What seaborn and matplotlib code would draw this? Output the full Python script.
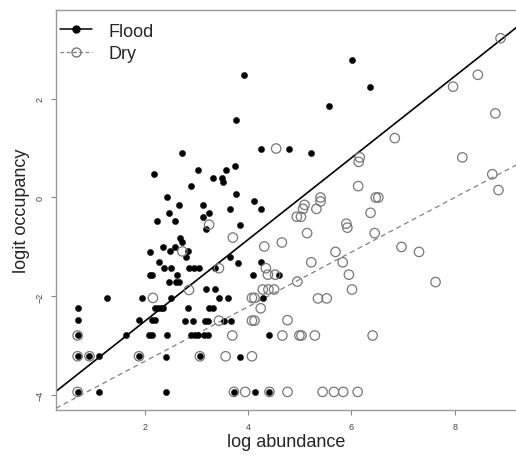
import numpy as np
import pandas as pd
import matplotlib
matplotlib.use("Agg")
import matplotlib.pyplot as plt
import seaborn as sns
from matplotlib.lines import Line2D

# Flood sites (filled dots): log abundance vs logit occupancy
flood_x = [3.92, 3.77, 2.72, 2.17, 3.02, 2.88, 3.32, 3.48, 3.50, 3.57, 3.75, 3.76,
           2.43, 2.46, 2.65, 2.22, 2.57, 3.13, 3.24, 3.12, 3.64, 3.83, 4.11, 4.24,
           4.25, 4.78, 5.21, 5.57, 6.01, 6.36, 3.18, 2.68, 2.72, 2.34, 2.57, 2.09,
           2.49, 2.84, 2.80, 3.64, 3.80, 2.27, 2.37, 2.50, 2.85, 2.95, 3.04, 3.35,
           2.10, 2.14, 2.61, 4.09, 2.47, 2.60, 2.65, 2.50, 1.93, 1.26, 3.17, 3.35,
           3.44, 3.61, 0.69, 2.19, 2.25, 2.30, 2.35, 2.84, 3.24, 3.31, 0.69, 1.88,
           2.14, 2.20, 2.78, 2.92, 3.16, 3.22, 3.52, 3.66, 1.62, 2.08, 2.14, 2.43,
           2.89, 2.96, 3.02, 3.14, 3.22, 1.11, 2.40, 3.83, 1.11, 2.40, 4.12, 4.24,
           4.59, 4.29, 4.41,
           0.69, 0.69, 0.92, 1.88, 0.69, 3.06, 3.72, 4.41]
flood_y = [2.48, 1.57, 0.90, 0.47, 0.55, 0.23, 0.39, 0.39, 0.31, 0.55, 0.63, 0.08,
           0.00, -0.31, -0.15, -0.47, -0.47, -0.15, -0.31, -0.40, -0.23, -0.55, -0.08, -0.23,
           0.99, 0.99, 0.90, 1.85, 2.78, 2.24, -0.63, -0.81, -0.90, -1.00, -1.00, -1.10,
           -1.09, -1.09, -1.21, -1.21, -1.32, -1.31, -1.43, -1.43, -1.43, -1.43, -1.43, -1.43,
           -1.56, -1.56, -1.57, -1.57, -1.70, -1.70, -1.70, -2.03, -2.03, -2.03, -1.86, -1.86,
           -2.03, -2.03, -2.24, -2.24, -2.24, -2.24, -2.24, -2.24, -2.24, -2.24, -2.48, -2.48,
           -2.48, -2.48, -2.49, -2.49, -2.49, -2.49, -2.49, -2.49, -2.79, -2.79, -2.79, -2.79,
           -2.79, -2.79, -2.79, -2.79, -2.79, -3.21, -3.22, -3.22, -3.93, -3.93, -3.93, -1.31,
           -1.56, -2.04, -2.79,
           -2.79, -3.21, -3.21, -3.21, -3.93, -3.21, -3.93, -3.93]

# Dry sites (open circles)
dry_x = [3.24, 3.70, 2.72, 3.43, 2.85, 2.15, 4.07, 4.12, 3.43, 4.07, 4.12, 3.69,
         3.56, 4.07, 3.94, 4.24, 4.54, 8.89, 8.45, 7.97, 8.79, 6.84, 8.15, 6.16,
         6.14, 8.73, 8.85, 6.13, 6.47, 6.52, 5.40, 5.40, 5.09, 5.06, 5.32, 4.94,
         5.02, 6.37, 5.90, 5.92, 5.14, 6.45, 4.31, 4.65, 6.97, 7.31, 5.69, 5.22,
         5.83, 4.34, 4.38, 4.52, 5.95, 4.95, 7.63, 4.28, 4.39, 4.50, 6.01, 5.35,
         5.52, 4.76, 4.66, 4.99, 5.03, 5.29, 6.41, 4.76, 5.44, 5.66, 5.84, 6.12,
         0.69, 0.69, 0.92, 1.88, 0.69, 3.06, 3.72, 4.41]
dry_y = [-0.55, -0.81, -1.09, -1.43, -1.87, -2.03, -2.03, -2.03, -2.49, -2.49, -2.49, -2.79,
         -3.21, -3.21, -3.93, -2.24, 0.99, 3.22, 2.48, 2.24, 1.70, 1.20, 0.81, 0.81,
         0.72, 0.47, 0.15, 0.23, 0.00, 0.00, 0.00, -0.08, -0.15, -0.23, -0.23, -0.39,
         -0.39, -0.31, -0.53, -0.61, -0.72, -0.72, -0.99, -0.91, -1.00, -1.10, -1.10, -1.31,
         -1.31, -1.43, -1.56, -1.56, -1.56, -1.70, -1.71, -1.86, -1.86, -1.86, -1.86, -2.04,
         -2.04, -2.48, -2.79, -2.79, -2.79, -2.79, -2.79, -3.93, -3.93, -3.93, -3.93, -3.93,
         -2.79, -3.21, -3.21, -3.21, -3.93, -3.21, -3.93, -3.93]

# fitted lines (intercept, slope)
flood_fit = (-4.143, 0.824)
dry_fit = (-4.41, 0.551)

xlim = (0.271, 9.19)
ylim = (-4.29, 3.79)

sns.set_style("white")
plt.rcParams['font.family'] = ['Liberation Sans', 'DejaVu Sans']

fig = plt.figure(figsize=(5.16, 4.56), dpi=100)
ax = fig.add_axes([56 / 516, 1 - 410.7 / 456, 1 - 56 / 516, (410.7 - 11) / 456])

flood = pd.DataFrame({'x': flood_x, 'y': flood_y})
dry = pd.DataFrame({'x': dry_x, 'y': dry_y})

sns.scatterplot(data=flood, x='x', y='y', ax=ax, s=20, color='black',
                edgecolor='black', linewidth=0.3, zorder=3)
sns.scatterplot(data=dry, x='x', y='y', ax=ax, s=46, facecolor='none',
                edgecolor='#777777', linewidth=0.9, zorder=4)

xs = np.array(xlim)
sns.lineplot(x=xs, y=flood_fit[0] + flood_fit[1] * xs, ax=ax, color='black', linewidth=1.2)
sns.lineplot(x=xs, y=dry_fit[0] + dry_fit[1] * xs, ax=ax, color='#808080',
             linewidth=0.9, linestyle=(0, (4, 3)))

ax.set_xlim(*xlim)
ax.set_ylim(*ylim)
ax.set_xticks([2, 4, 6, 8])
ax.set_yticks([2, 0, -2, -4])
ax.tick_params(axis='both', direction='out', length=3.5, width=0.8, color='#888888',
               labelsize=6.5, labelcolor='#444444', pad=5, left=True, bottom=True)
for lbl in ax.get_yticklabels():
    lbl.set_rotation(90)
    lbl.set_va('center')
for side in ['left', 'top', 'bottom']:
    ax.spines[side].set_color('#999999')
    ax.spines[side].set_linewidth(1.0)
ax.spines['right'].set_visible(False)

ax.set_xlabel('log abundance', fontsize=13, labelpad=2)
ax.set_ylabel('logit occupancy', fontsize=13, labelpad=4)

handles = [
    Line2D([0], [0], color='black', linewidth=1.1, marker='o', markersize=5,
           markerfacecolor='black'),
    Line2D([0], [0], color='#808080', linewidth=0.9, linestyle=(0, (3, 2)), marker='o',
           markersize=6.5, markerfacecolor='none', markeredgecolor='#777777'),
]
ax.legend(handles, ['Flood', 'Dry'], loc='upper left', bbox_to_anchor=(0.008, 0.968),
          frameon=False, fontsize=13, handlelength=1.8, handletextpad=0.9,
          labelspacing=0.3, borderaxespad=0, borderpad=0)

fig.savefig('out.png', dpi=100)
